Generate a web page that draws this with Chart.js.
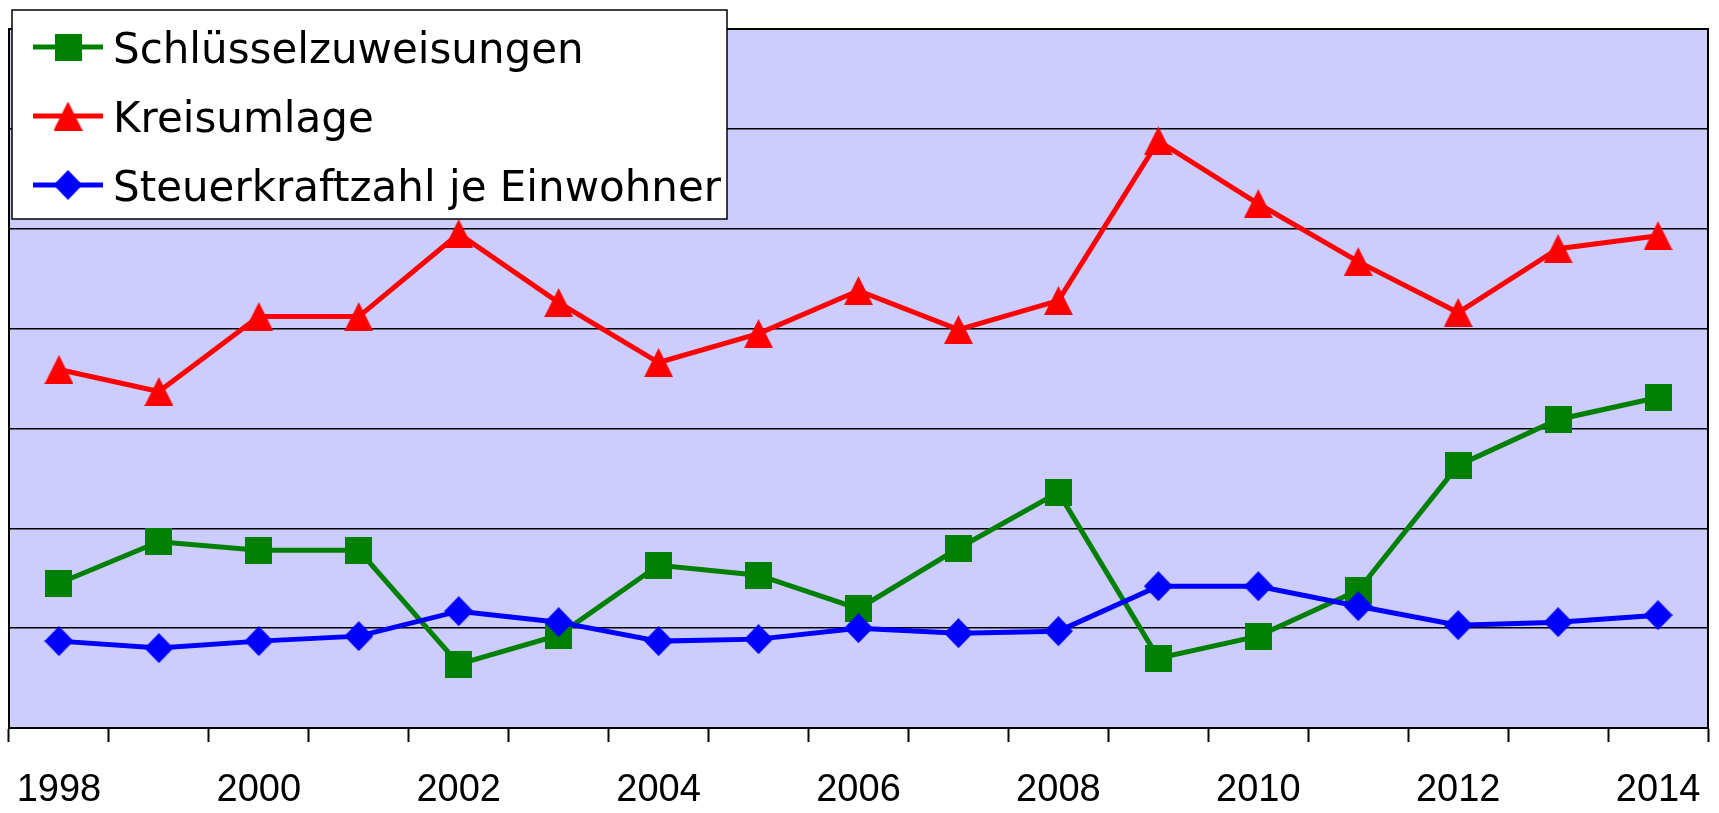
<!DOCTYPE html>
<html>
<head>
<meta charset="utf-8">
<script src="https://cdn.jsdelivr.net/npm/chart.js@4/dist/chart.umd.min.js"></script>
<style>
  html, body { margin: 0; padding: 0; background: #fff; }
  canvas { display: block; }
</style>
</head>
<body>
<canvas id="chart" width="1719" height="813"></canvas>
<script>
const years = ["1998", "1999", "2000", "2001", "2002", "2003", "2004", "2005", "2006",
  "2007", "2008", "2009", "2010", "2011", "2012", "2013", "2014"];
const schluesselzuweisungen = [1.45, 1.865, 1.78, 1.78, 0.64, 0.93, 1.63, 1.53, 1.195,
  1.8, 2.36, 0.7, 0.92, 1.38, 2.63, 3.09, 3.31];
const kreisumlage = [3.59, 3.37, 4.12, 4.12, 4.95, 4.26, 3.66, 3.95, 4.38,
  3.99, 4.28, 5.88, 5.25, 4.67, 4.16, 4.8, 4.93];
const steuerkraftzahl = [0.87, 0.8, 0.87, 0.92, 1.17, 1.06, 0.87, 0.89, 1.0,
  0.95, 0.97, 1.42, 1.42, 1.22, 1.03, 1.06, 1.13];
const seriesNames = ["Schlüsselzuweisungen", "Kreisumlage", "Steuerkraftzahl je Einwohner"];

// excel-like markers, drawn once on small canvases
function makeMarker(shape, color, w, h) {
  const c = document.createElement("canvas");
  c.width = w;
  c.height = h;
  const ctx = c.getContext("2d");
  ctx.fillStyle = color;
  ctx.beginPath();
  if (shape === "square") {
    ctx.rect(0, 0, w, h);
  } else if (shape === "triangle") {
    ctx.moveTo(w / 2, 0);
    ctx.lineTo(w, h);
    ctx.lineTo(0, h);
  } else {
    ctx.moveTo(w / 2, 0);
    ctx.lineTo(w, h / 2);
    ctx.lineTo(w / 2, h);
    ctx.lineTo(0, h / 2);
  }
  ctx.closePath();
  ctx.fill();
  return c;
}

const greenMark = makeMarker("square", "#008000", 27, 27);
const redMark = makeMarker("triangle", "#ff0000", 29, 29);
const blueMark = makeMarker("diamond", "#0000ff", 29, 30);

const plotFrame = {
  id: "plotFrame",
  beforeDraw(chart) {
    const { ctx, chartArea: a } = chart;
    ctx.save();
    ctx.fillStyle = "#ccccff";
    ctx.fillRect(a.left, a.top, a.right - a.left, a.bottom - a.top);
    ctx.restore();
  },
  beforeDatasetsDraw(chart) {
    const { ctx, chartArea: a } = chart;
    ctx.save();
    ctx.strokeStyle = "#000";
    ctx.lineWidth = 2;
    ctx.strokeRect(a.left, a.top, a.right - a.left, a.bottom - a.top);
    ctx.restore();
  },
};

// legend box overlapping the top-left of the plot
const boxLegend = {
  id: "boxLegend",
  afterDraw(chart) {
    const ctx = chart.ctx;
    ctx.save();
    ctx.fillStyle = "#fff";
    ctx.fillRect(12, 10, 715, 209);
    ctx.strokeStyle = "#000";
    ctx.lineWidth = 1.5;
    ctx.strokeRect(12, 10, 715, 209);
    ctx.font = "42px 'DejaVu Sans'";
    ctx.textBaseline = "alphabetic";
    chart.data.datasets.forEach((ds, i) => {
      const y = 47 + i * 69;
      ctx.strokeStyle = ds.borderColor;
      ctx.lineWidth = 5;
      ctx.beginPath();
      ctx.moveTo(33, y);
      ctx.lineTo(103, y);
      ctx.stroke();
      const m = ds.pointStyle;
      ctx.drawImage(m, 68 - m.width / 2, y - m.height / 2);
      ctx.fillStyle = "#000";
      ctx.fillText(ds.label, 113, y + 16);
    });
    ctx.restore();
  },
};

new Chart(document.getElementById("chart"), {
  type: "line",
  data: {
    labels: years,
    datasets: [
      {
        label: seriesNames[0],
        data: schluesselzuweisungen,
        borderColor: "#008000",
        borderWidth: 5,
        pointStyle: greenMark,
        order: 3,
      },
      {
        label: seriesNames[1],
        data: kreisumlage,
        borderColor: "#ff0000",
        borderWidth: 5,
        pointStyle: redMark,
        order: 2,
      },
      {
        label: seriesNames[2],
        data: steuerkraftzahl,
        borderColor: "#0000ff",
        borderWidth: 5,
        pointStyle: blueMark,
        order: 1,
      },
    ],
  },
  options: {
    responsive: false,
    animation: false,
    layout: { padding: { left: 8, right: 11, top: 29, bottom: 0 } },
    plugins: { legend: { display: false }, tooltip: { enabled: false } },
    scales: {
      x: {
        offset: true,
        afterFit: (s) => {
          s.height = 85;
          s.paddingLeft = 0;
          s.paddingRight = 0;
        },
        grid: {
          offset: true,
          drawOnChartArea: false,
          drawTicks: true,
          tickLength: 14,
          tickColor: "#000",
          tickWidth: 2,
        },
        border: { display: true, color: "#000", width: 2 },
        ticks: {
          autoSkip: false,
          maxRotation: 0,
          padding: 26,
          color: "#000",
          font: { family: "'Liberation Sans'", size: 38 },
          callback: (v, i) => (i % 2 === 0 ? years[i] : ""),
        },
      },
      y: {
        min: 0,
        max: 7,
        afterFit: (s) => { s.width = 0; },
        ticks: { display: false, stepSize: 1 },
        grid: { color: "#000", lineWidth: 1.5, drawTicks: false },
        border: { display: true, color: "#000", width: 2 },
      },
    },
  },
  plugins: [plotFrame, boxLegend],
});
</script>
</body>
</html>
